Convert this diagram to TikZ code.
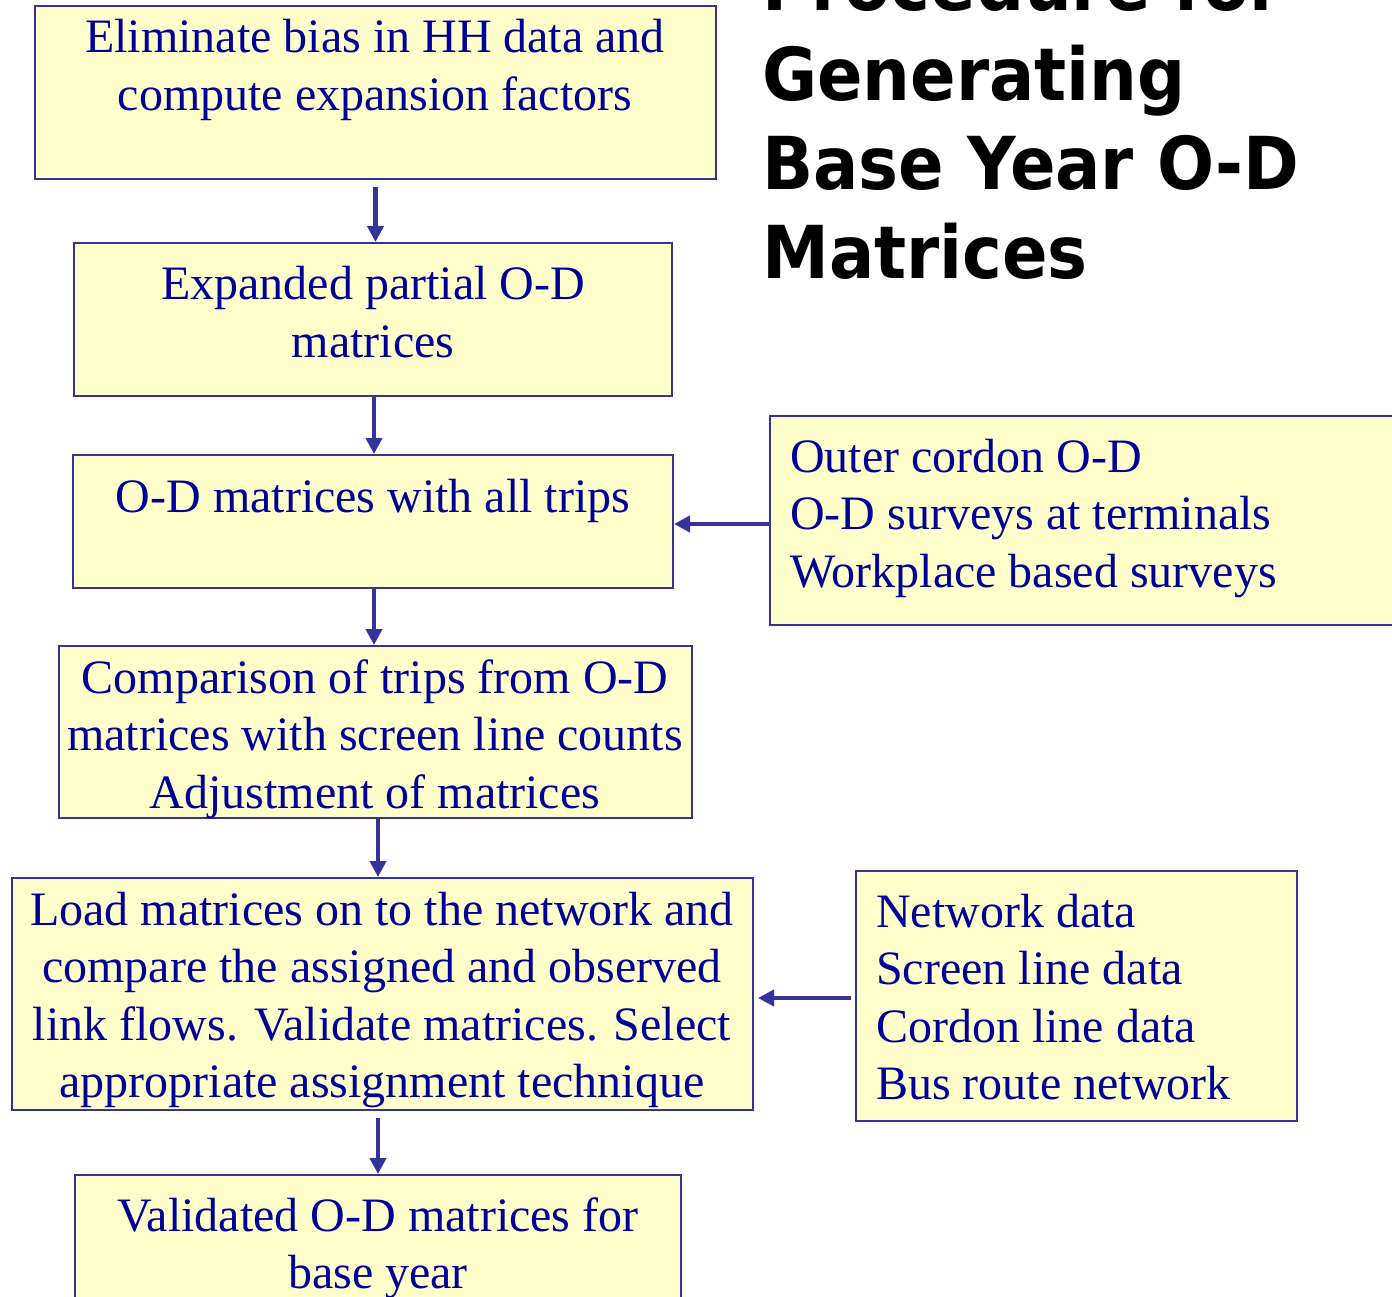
\documentclass[tikz,border=0pt]{standalone}
\usepackage{fontspec}
\setmainfont{Liberation Serif}
\newfontfamily\titlefont{DejaVu Sans}
\usetikzlibrary{arrows.meta,calc}

\definecolor{boxfill}{HTML}{FFFFCC}
\definecolor{boxline}{HTML}{333399}
\definecolor{boxtext}{HTML}{000099}

\tikzset{
  stepbox/.style={draw=boxline, line width=2pt, fill=boxfill, rectangle, inner sep=0pt},
  flow/.style={draw=boxline, line width=4.8pt, -{Triangle[length=16pt,width=16pt]}},
  midtext/.style={anchor=base, inner sep=0pt, text=boxtext},
  sidetext/.style={anchor=base west, inner sep=0pt, text=boxtext},
}

% a box spanning two corners (pixel grid, y downwards)
\newcommand\boxat[3]{%
  \path let \p1=(#2), \p2=(#3) in
    node[stepbox, minimum width=\x2-\x1, minimum height=\y1-\y2]
      (#1) at ({0.5*(\x1+\x2)},{0.5*(\y1+\y2)}) {};}

\newcommand\centered[1]{\parbox[t]{760pt}{\centering\fontsize{48}{57.5}\selectfont #1}}
\newcommand\leftset[1]{\parbox[t]{640pt}{\raggedright\fontsize{48}{57.5}\selectfont #1}}

\begin{document}
\begin{tikzpicture}[x=1pt, y=-1pt]
  \useasboundingbox (0,0) rectangle (1392,1297);
  \fill[white] (0,0) rectangle (1392,1297);

  % title
  \node[anchor=base west, inner sep=0pt, align=left] (title) at (762,11)
    {\scalebox{0.92}[1]{\parbox[t]{700pt}{\titlefont\bfseries\fontsize{73}{89.3}\selectfont
      Procedure for\\Generating\\Base Year O-D\\Matrices}}};

  % boxes
  \boxat{b1}{35,6}{716,179}
  \boxat{b2}{74,243}{672,396}
  \boxat{b3}{73,455}{673,588}
  \boxat{b4}{770,416}{1420,625}
  \boxat{b5}{59,646}{692,818}
  \boxat{b6}{12,878}{753,1110}
  \boxat{b7}{856,871}{1297,1121}
  \boxat{b8}{75,1175}{681,1330}

  % box texts
  \node[midtext] (t1) at (375,53) {\centered{Eliminate bias in HH data and\\compute expansion factors}};
  \node[midtext] (t2) at (373,300) {\centered{Expanded partial O-D\\matrices}};
  \node[midtext] (t3) at (373,512) {\centered{O-D matrices with all trips}};
  \node[sidetext] (t4) at (790,472) {\leftset{Outer cordon O-D\\O-D surveys at terminals\\Workplace based surveys}};
  \node[midtext] (t5) at (375,693) {\centered{Comparison of trips from O-D\\matrices with screen line counts\\Adjustment of matrices}};
  \node[midtext] (t6) at (382,925) {\centered{Load matrices on to the network and\\compare the assigned and observed\\link flows. Validate matrices. Select\\appropriate assignment technique}};
  \node[sidetext] (t7) at (876,927) {\leftset{Network data\\Screen line data\\Cordon line data\\Bus route network}};
  \node[midtext] (t8) at (378,1231) {\centered{Validated O-D matrices for\\base year}};

  % connectors
  \draw[flow, shorten <=7pt] (b1.south) -- (b1.south |- b2.north);
  \draw[flow] (b2.south -| 374,0) -- (b3.north -| 374,0);
  \draw[flow] (b3.south -| 374,0) -- (b5.north -| 374,0);
  \draw[flow] (b5.south -| b8.north) -- (b6.north -| b8.north);
  \draw[flow, shorten <=7pt] (b6.south -| b8.north) -- (b8.north);
  \draw[flow] (b4.west |- 0,524) -- (b3.east |- 0,524);
  \draw[flow, shorten <=4pt, shorten >=4pt] (b7.west |- 0,998) -- (b6.east |- 0,998);
\end{tikzpicture}
\end{document}
